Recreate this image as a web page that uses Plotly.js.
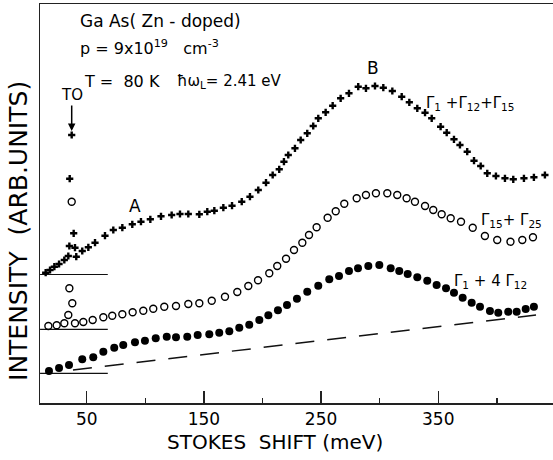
<!DOCTYPE html>
<html>
<head>
<meta charset="utf-8">
<script src="https://cdn.plot.ly/plotly-3.0.1.min.js"></script>
<style>html,body{margin:0;padding:0;background:#fff;}#chart{width:553px;height:460px;}</style>
</head>
<body>
<div id="chart"></div>
<script>
// Stokes shift (meV) and intensity (arb. units)
const crossX = [15.0,18.7,22.4,26.4,30.9,34.3,35.2,35.5,37.2,38.9,40.0,41.1,46.2,51.4,57.1,65.6,72.7,80.4,88.9,96.3,104.3,113.4,122.5,129.6,136.7,146.1,152.9,158.9,166.6,174.0,182.3,189.3,196.4,203.0,208.7,214.3,218.3,222.0,227.7,232.6,238.2,243.3,247.6,253.9,259.9,266.7,273.8,281.7,288.3,296.0,303.1,310.8,318.8,325.3,332.1,338.7,344.4,352.0,357.2,363.4,368.5,374.7,380.5,386.2,391.8,399.2,406.9,414.0,423.1,431.6,441.0];
const crossY = [130.3,133,136.3,139,143,147,157,224.3,268,169.7,155.3,146.3,152,155.7,160.3,167.3,173,175.3,178.7,181.3,183.7,186.7,188,189,189,188.7,191.3,192.3,195.3,197.3,201.3,206.3,213,220.3,228,233.7,241.3,248,254.7,263,269.7,277,284.7,290.7,297.3,304.7,309.7,316.3,314.7,317,315.3,312,306.3,300.7,294.7,290.3,284.7,276.3,270.3,263.7,258,251.3,242.3,237,229.7,227,224.7,223.7,224.7,225.7,228];

const openX = [17.3,24.4,30.9,34.3,35.2,37.2,37.7,40.0,47.1,55.1,64.2,71.8,80.4,89.2,98.3,106.8,116.2,126.2,136.7,146.1,156.7,168.0,178.5,187.9,196.2,205.8,212.6,220.1,226.9,234.0,239.7,246.2,255.6,262.5,269.8,280.4,288.3,296.8,306.5,315.0,323.0,330.1,338.7,345.7,352.9,360.6,369.4,379.4,389.8,400.3,411.6,421.7,430.8];
const openY = [77,77.7,79.7,88,114.7,201.3,99.7,79.7,81,83,85.7,87.3,88.7,90.7,92.3,94.3,96.3,97,99,99.7,102.3,106.3,111,117,122.7,129.7,137,144.3,153,160.3,168,175.7,185.3,191.7,199.3,204.7,208,209.7,209.7,208,204.7,201.3,197,193,188.7,184.7,181.3,175.3,167,163,161.3,163,165.7];

const fillX = [17.8,26.4,34.9,46.2,55.6,64.2,73.5,81.2,91.2,99.7,108.9,118.3,126.2,135.8,144.7,154.6,163.1,171.7,180.2,188.7,197.3,205.0,213.2,220.9,229.4,238.2,247.6,257.0,265.3,273.8,281.5,290.3,299.7,309.4,316.7,323.9,332.1,340.6,348.6,356.6,363.4,370.8,378.5,385.6,394.1,401.2,409.7,416.9,424.6,431.6];
const fillY = [32,35,38,43.7,45.7,51.3,55.3,58,60.7,62.3,64.7,66.3,65.7,66.3,68,68.7,70.3,71.7,75.3,78.3,83,87.7,92.7,98,104.3,111.3,117.3,123.7,127,132,134.7,137,138,134.7,132,129,125.7,122.3,118,114.7,110.3,105.3,100.3,96.3,92,90.3,91.3,91.3,94,96.3];

// dashed background line and zero-level baselines
const bgX = [38.3, 433.4];
const bgY = [33, 88];
const baseX = [10.2, 68];
const baseLevels = [128.5, 73.7, 29.7];

const tickVals = [50, 150, 250, 350];
const minorVals = [100, 200, 300, 400];

const FONT = 'DejaVu Sans';
const traces = [];
baseLevels.forEach(v => traces.push({x: baseX, y: [v, v], mode: 'lines', line: {color: '#111', width: 1.2}, hoverinfo: 'skip'}));
traces.push({x: bgX, y: bgY, mode: 'lines', line: {color: '#111', width: 1.5, dash: '19px,13px'}});
traces.push({x: crossX, y: crossY, mode: 'markers', marker: {symbol: 'cross', size: 6, color: '#000'}});
traces.push({x: openX, y: openY, mode: 'markers', marker: {symbol: 'circle-open', size: 7, color: '#000', line: {width: 1.4, color: '#000'}}});
traces.push({x: fillX, y: fillY, mode: 'markers', marker: {symbol: 'circle', size: 8, color: '#000'}});

const ann = (text, x, y, opts) => Object.assign({text, x, y, xref: 'x', yref: 'y', xanchor: 'center', yanchor: 'middle', showarrow: false, font: {family: FONT, size: 17, color: '#000'}}, opts || {});
const gfont = {family: FONT, size: 15, color: '#000'};
const annotations = [
  ann('Ga As( Zn - doped)', 42.6, 382, {xanchor: 'left'}),
  ann('p = 9x10<sup>19</sup>   cm<sup>-3</sup>', 42.6, 356, {xanchor: 'left', font: {family: FONT, size: 16, color: '#000'}}),
  ann('T =  80 K', 46.0, 322, {xanchor: 'left', font: {family: FONT, size: 16, color: '#000'}}),
  ann('ħω<sub>L</sub>= 2.41 eV', 125.3, 322, {xanchor: 'left', font: {family: FONT, size: 15, color: '#000'}}),
  {text: 'TO', x: 37.2, y: 272, xref: 'x', yref: 'y', showarrow: true, ax: 0, ay: -36, arrowhead: 2, arrowsize: 1, arrowwidth: 1.5, arrowcolor: '#000', font: {family: FONT, size: 15, color: '#000'}},
  ann('A', 90.9, 197),
  ann('B', 294.6, 334.7),
  ann('Γ<sub>1</sub> +Γ<sub>12</sub>+Γ<sub>15</sub>', 337.8, 299.7, {xanchor: 'left', font: gfont}),
  ann('Γ<sub>15</sub>+ Γ<sub>25</sub>', 385.0, 183, {xanchor: 'left', font: gfont}),
  ann('Γ<sub>1</sub> + 4 Γ<sub>12</sub>', 361.4, 121.3, {xanchor: 'left', font: gfont}),
  {text: 'STOKES  SHIFT (meV)', xref: 'paper', yref: 'paper', x: 0.458, y: -0.097, xanchor: 'center', yanchor: 'middle', showarrow: false, font: {family: FONT, size: 20, color: '#000'}},
  {text: 'INTENSITY  (ARB.UNITS)', xref: 'paper', yref: 'paper', x: -0.043, y: 0.431, xanchor: 'center', yanchor: 'middle', textangle: -90, showarrow: false, font: {family: FONT, size: 25, color: '#000'}}
];

const layout = {
  width: 553, height: 460,
  margin: {l: 40, r: 0, t: 4, b: 57},
  paper_bgcolor: '#fff', plot_bgcolor: '#fff',
  showlegend: false,
  font: {family: FONT, color: '#000'},
  xaxis: {
    range: [10.15, 447.9], showgrid: false, zeroline: false,
    showline: true, linecolor: '#222', linewidth: 1.5, mirror: true,
    tickmode: 'array', tickvals: tickVals, ticks: 'inside', ticklen: 12, tickwidth: 1.5, tickcolor: '#222',
    minor: {tickmode: 'array', tickvals: minorVals, ticks: 'inside', ticklen: 5, tickwidth: 1.5, tickcolor: '#222'},
    tickfont: {family: FONT, size: 17, color: '#000'}
  },
  yaxis: {
    range: [0, 399], showgrid: false, zeroline: false, showticklabels: false, ticks: '',
    showline: true, linecolor: '#222', linewidth: 1.5
  },
  annotations
};

Plotly.newPlot('chart', traces, layout, {staticPlot: true, displayModeBar: false});
</script>
</body>
</html>
